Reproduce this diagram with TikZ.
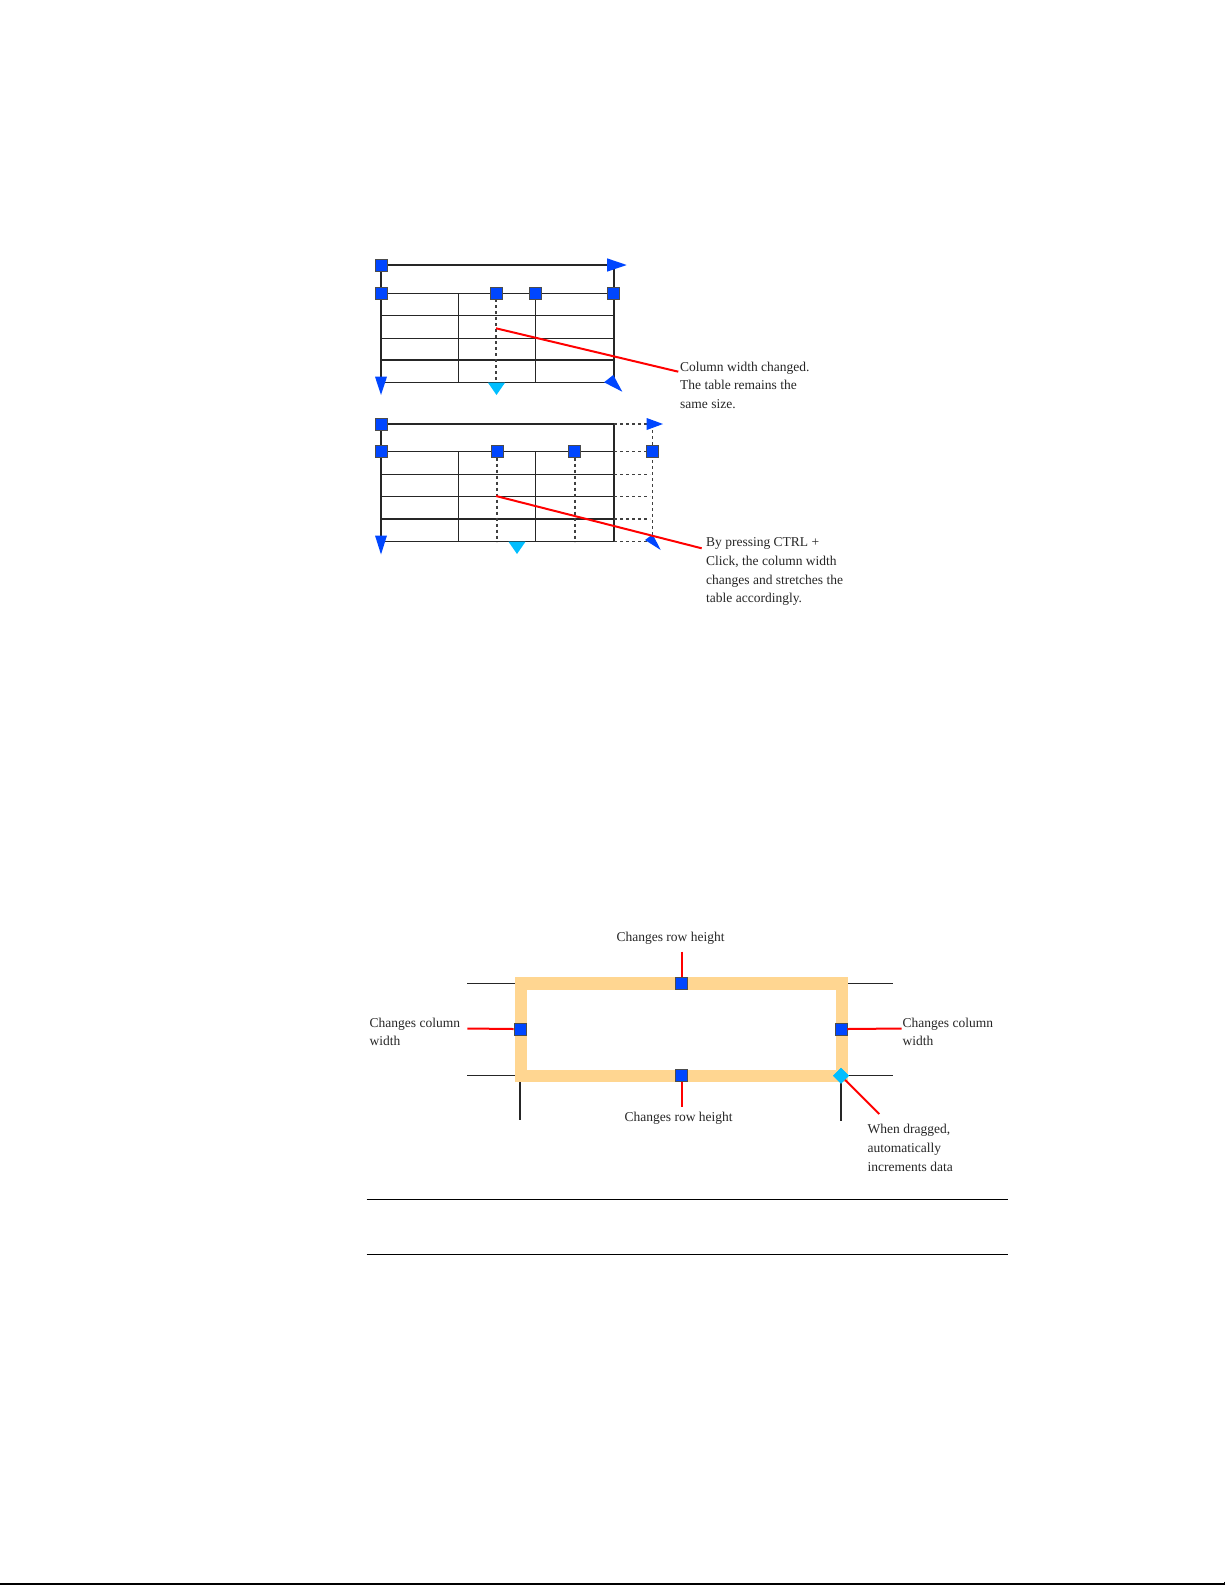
\documentclass[tikz,border=0pt]{standalone}
\usepackage{fontspec}
\setmainfont{Liberation Serif}
\usetikzlibrary{shapes.geometric}
\definecolor{hblue}{RGB}{0,70,255}
\definecolor{hcyan}{RGB}{0,190,255}
\definecolor{hred}{RGB}{255,0,0}
\definecolor{horange}{RGB}{255,214,145}
\begin{document}
\begin{tikzpicture}[x=1pt,y=-1pt,
  handle/.style={rectangle,draw=black!70,fill=hblue,line width=0.8pt,minimum size=12pt,inner sep=0pt},
  diam/.style={diamond,fill=hcyan,minimum size=16pt,inner sep=0pt},
  tline/.style={line width=1.2pt,draw=black!85},
  dline/.style={line width=1.1pt,draw=black!75,dash pattern=on 3pt off 3pt},
  redline/.style={line width=2pt,draw=hred},
  tip/.style={fill=hblue},
  ctip/.style={fill=hcyan},
  lbl/.style={font=\fontsize{13.5}{18.8}\selectfont,align=left,inner sep=0pt,text=black!85},
  rule/.style={line width=1.3pt,draw=black}]
\useasboundingbox (0,0) rectangle (1225,1585);

% ---------- Table 1 ----------
\draw[tline] (381,265) -- (608,265);
\draw[tline] (381,265) -- (381,382.7);
\draw[tline] (614,265) -- (614,382.7);
\foreach \y in {293.3,315.7,338.3,360,382.7}
  \draw[tline] (381,\y) -- (614,\y);
\foreach \x in {458.7,535.7}
  \draw[tline] (\x,293.3) -- (\x,382.7);
\draw[dline] (496,293.3) -- (496,382.7);
\fill[tip] (607,258.3) -- (626.7,265) -- (607,271.7) -- cycle;
\fill[tip] (375,376.7) -- (387,376.7) -- (381,395) -- cycle;
\fill[ctip] (488,382.7) -- (505,382.7) -- (496.5,395) -- cycle;
\fill[tip] (604,382.3) -- (613.3,375) -- (622.3,391.7) -- cycle;
\node[handle] (a1) at (381,265) {};
\node[handle] (a2) at (381,293.3) {};
\node[handle] (a3) at (496,293.3) {};
\node[handle] (a4) at (535.7,293.3) {};
\node[handle] (a5) at (613,293.3) {};
\coordinate (r1) at (496,328.3);
\node[lbl,anchor=base west] (l1) at (680,408.6) {Column width changed.\\The table remains the\\same size.};
\coordinate (l1e) at (678.3,371.7);
\draw[redline] (r1) -- (l1e);

% ---------- Table 2 ----------
\draw[tline] (381,424) -- (614,424);
\draw[tline] (381,424) -- (381,541.7);
\draw[tline] (614,424) -- (614,541.7);
\foreach \y in {451.7,474.3,496.7,519,541.7}
  \draw[tline] (381,\y) -- (614,\y);
\foreach \x in {458.7,535.7}
  \draw[tline] (\x,451.7) -- (\x,541.7);
\foreach \x in {497,575}
  \draw[dline] (\x,451.7) -- (\x,541.7);
\foreach \y in {424,451.7,474.3,496.7,519,541.7}
  \draw[dline] (614,\y) -- (650,\y);
\draw[dline] (652.3,430) -- (652.3,541.7);
\fill[tip] (646.7,418) -- (663,424) -- (646.7,430) -- cycle;
\fill[tip] (375,535.5) -- (387,535.5) -- (381,554.5) -- cycle;
\fill[ctip] (508.5,541.7) -- (525.5,541.7) -- (517,554) -- cycle;
\fill[tip] (645,540) -- (652.7,534.3) -- (660.7,550) -- cycle;
\node[handle] (b1) at (381,424) {};
\node[handle] (b2) at (381,451.7) {};
\node[handle] (b3) at (497,451.7) {};
\node[handle] (b4) at (574,451.7) {};
\node[handle] (b5) at (652.3,451.7) {};
\coordinate (r2) at (496,496);
\node[lbl,anchor=base west] (l2) at (706,602.9) {By pressing CTRL +\\Click, the column width\\changes and stretches the\\table accordingly.};
\coordinate (l2e) at (701.7,548.3);
\draw[redline] (r2) -- (l2e);

% ---------- Cell grips ----------
\draw[line width=1.2pt,black!85] (467.3,983.3) -- (515,983.3);
\draw[line width=1.2pt,black!85] (467.3,1075.7) -- (515,1075.7);
\draw[line width=1.2pt,black!85] (848,983.3) -- (893.3,983.3);
\draw[line width=1.2pt,black!85] (848,1075.7) -- (893.3,1075.7);
\draw[line width=1.2pt,black!85] (520,1082) -- (520,1120);
\draw[line width=1.2pt,black!85] (841,1082) -- (841,1121);
\draw[line width=12.5pt,horange] (521,983.3) rectangle (842,1075.8);
\node[handle] (gl) at (520,1029) {};
\node[handle] (gr) at (841,1029) {};
\node[handle] (gt) at (681.7,983.3) {};
\node[handle] (gb) at (681.7,1075.7) {};
\node[diam] (gd) at (841,1075.7) {};
\node[lbl,anchor=base] (tt) at (670.6,941.5) {Changes row height};
\node[lbl,anchor=base] (tb) at (678.7,1121) {Changes row height};
\node[lbl,anchor=base west] (tl) at (369.5,1045.8) {Changes column\\width};
\node[lbl,anchor=base west] (tr) at (902.5,1045.8) {Changes column\\width};
\node[lbl,anchor=base west] (td) at (867.5,1171.1) {When dragged,\\automatically\\increments data};
\coordinate (ctl) at (467.3,1028.5);
\coordinate (ctr) at (901.7,1028.5);
\coordinate (ctt) at (681.7,951.7);
\coordinate (ctb) at (681.7,1106.7);
\coordinate (ctd) at (879.3,1114);
\draw[redline] (ctl) -- (gl.west);
\draw[redline] (gr.east) -- (ctr);
\draw[redline] (ctt) -- (gt.north);
\draw[redline] (gb.south) -- (ctb);
\draw[redline] (gd) -- (ctd);
\node[diam] at (841,1075.7) {};

% ---------- Rules ----------
\draw[rule] (366.7,1199.5) -- (1007.7,1199.5);
\draw[rule] (366.7,1254.3) -- (1007.7,1254.3);
\draw[line width=1.5pt] (0,1584) -- (1224,1584);
\draw[line width=0.8pt] (1224,1581.5) -- (1224,1585);
\end{tikzpicture}
\end{document}
